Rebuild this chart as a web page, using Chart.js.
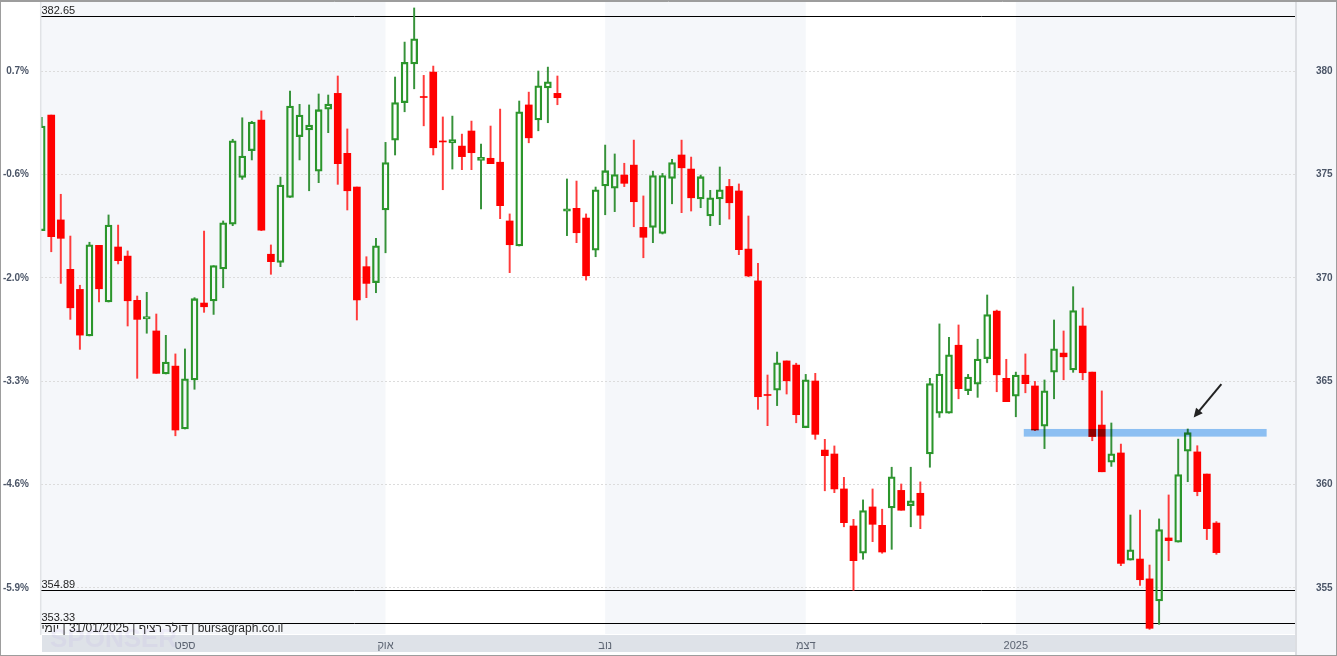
<!DOCTYPE html>
<html lang="he">
<head>
<meta charset="utf-8">
<title>דולר רציף - יומי</title>
<script src="https://cdn.jsdelivr.net/npm/chart.js@4.4.1/dist/chart.umd.min.js"></script>
<style>
  html, body { margin: 0; padding: 0; background: #fff; }
  #wrap { width: 1337px; height: 656px; }
</style>
</head>
<body>
<div id="wrap"><canvas id="candles" width="1337" height="656"></canvas></div>
<script>
// daily candles, index 0 = first trading day on screen (last = 31/01/2025)
const opens = [
  372.28, 377.87, 372.80, 370.41, 369.44, 367.19, 371.57, 368.83, 371.49, 371.05,
  368.91, 368.01, 367.43, 365.35, 365.73, 362.69, 365.06, 368.78, 368.88, 370.43,
  372.59, 374.86, 376.15, 377.63, 371.14, 370.75, 373.89, 376.82, 377.15, 375.16,
  378.16, 378.92, 376.02, 374.39, 370.54, 369.76, 373.28, 376.66, 378.47, 380.34,
  378.74, 379.95, 376.59, 376.52, 376.37, 377.10, 375.68, 375.78, 375.59, 372.75,
  371.54, 378.36, 377.63, 379.18, 378.92, 373.22, 373.36, 372.89, 371.34, 374.44,
  374.34, 374.97, 375.45, 372.44, 372.44, 372.15, 374.81, 375.94, 375.26, 373.81,
  372.99, 373.81, 374.42, 374.20, 371.39, 369.85, 364.33, 364.57, 365.98, 365.78,
  362.75, 365.01, 361.67, 361.48, 359.79, 358.00, 356.68, 358.92, 358.03, 358.87,
  359.72, 358.98, 359.58, 361.48, 363.45, 363.45, 366.74, 364.54, 364.86, 366.09,
  368.39, 365.14, 364.28, 365.29, 364.77, 362.83, 365.44, 366.36, 365.54, 367.67,
  365.44, 362.88, 361.09, 361.53, 356.35, 356.40, 355.44, 354.37, 357.42, 357.22,
  361.62, 361.58, 360.51, 358.14
];
const highs = [
  377.76, 377.87, 374.04, 372.02, 369.64, 371.72, 371.57, 373.04, 372.55, 371.30,
  369.12, 369.30, 368.25, 367.22, 366.32, 366.56, 369.04, 372.26, 370.59, 372.75,
  376.70, 377.74, 377.57, 378.07, 371.59, 374.87, 379.03, 378.39, 378.36, 378.89,
  378.84, 379.76, 377.20, 374.39, 371.02, 371.91, 376.55, 379.71, 381.40, 383.05,
  379.79, 380.24, 377.78, 377.82, 376.95, 377.58, 376.47, 377.34, 378.16, 373.09,
  378.55, 378.98, 380.00, 380.19, 379.76, 374.78, 374.68, 373.09, 374.39, 376.42,
  375.99, 375.54, 376.66, 373.96, 375.16, 375.05, 375.73, 376.66, 375.84, 374.97,
  374.23, 375.36, 374.76, 374.54, 372.99, 370.70, 365.30, 366.41, 365.98, 365.87,
  365.33, 365.38, 362.19, 361.87, 360.35, 358.32, 359.26, 359.79, 358.81, 360.84,
  360.03, 360.84, 360.13, 365.14, 367.77, 367.12, 367.72, 365.33, 367.03, 369.17,
  368.44, 366.06, 365.44, 366.32, 364.99, 365.06, 367.96, 367.43, 369.57, 368.54,
  365.44, 364.53, 362.98, 361.96, 358.53, 358.77, 356.11, 358.34, 359.50, 362.20,
  362.69, 361.88, 360.51, 358.21
];
const lows = [
  372.28, 371.26, 369.73, 367.99, 366.54, 367.19, 368.84, 368.83, 370.67, 367.67,
  365.14, 367.32, 365.38, 365.35, 362.36, 362.69, 364.61, 368.33, 368.23, 369.52,
  372.52, 374.76, 375.70, 372.28, 370.17, 370.54, 373.89, 375.70, 374.21, 374.60,
  377.02, 374.52, 373.28, 367.96, 369.04, 369.28, 371.21, 375.94, 378.03, 379.14,
  377.35, 375.94, 374.26, 375.26, 375.23, 375.23, 373.33, 375.52, 372.86, 370.25,
  371.54, 376.53, 377.11, 377.50, 378.37, 372.04, 371.70, 369.89, 371.02, 373.05,
  373.20, 374.41, 372.47, 370.97, 371.70, 372.12, 373.58, 373.15, 373.23, 373.39,
  372.52, 372.57, 372.84, 371.12, 370.05, 363.64, 362.85, 363.82, 364.38, 362.99,
  362.75, 362.19, 359.70, 359.61, 357.96, 354.89, 356.39, 357.24, 356.68, 356.87,
  358.76, 357.96, 357.87, 360.84, 363.25, 363.45, 364.15, 364.35, 364.22, 365.89,
  364.49, 364.01, 363.28, 364.44, 362.61, 361.74, 364.15, 365.07, 365.43, 365.07,
  362.12, 360.62, 360.88, 356.08, 356.35, 355.13, 353.00, 353.24, 356.32, 357.22,
  360.14, 359.46, 357.34, 356.63
];
const closes = [
  377.34, 371.99, 371.91, 368.55, 367.23, 371.59, 369.47, 372.55, 370.83, 368.89,
  367.99, 368.12, 365.38, 365.93, 362.64, 365.12, 368.99, 368.60, 370.59, 372.66,
  376.63, 375.89, 377.53, 372.31, 370.78, 374.49, 378.31, 377.87, 377.39, 378.13,
  378.40, 375.52, 374.21, 368.93, 369.73, 371.55, 375.57, 378.47, 380.42, 381.56,
  378.72, 376.29, 376.57, 376.68, 375.86, 376.05, 375.83, 375.52, 373.49, 371.60,
  378.03, 376.77, 379.29, 379.48, 378.71, 373.34, 372.18, 370.10, 374.26, 375.18,
  374.99, 374.57, 373.68, 371.96, 374.94, 374.94, 375.57, 375.32, 373.87, 374.89,
  373.87, 374.26, 373.63, 371.36, 370.09, 364.25, 364.31, 365.89, 365.02, 363.38,
  365.07, 362.43, 361.40, 359.79, 358.16, 356.32, 358.74, 358.08, 356.74, 360.38,
  358.76, 359.22, 358.52, 364.88, 365.35, 366.28, 364.64, 365.20, 366.07, 368.22,
  365.31, 364.01, 365.30, 364.88, 362.64, 364.54, 366.57, 366.18, 368.41, 365.41,
  362.32, 360.62, 361.49, 356.19, 356.85, 355.40, 353.05, 357.82, 357.29, 360.48,
  362.51, 359.66, 357.87, 356.71
];

// month labels along the date axis (candle index where the month starts)
const monthIdx = [15, 36, 59, 80, 102];
const monthNames = ['ספט', 'אוק', 'נוב', 'דצמ', '2025'];
// alternate month shading, candle index ranges
const shadeFrom = [-1, 59, 102];
const shadeTo = [36, 80, 140];

// price axis (right) and percent axis (left, vs reference price)
const priceTicks = [355, 360, 365, 370, 375, 380];
const pctBase = 377.4;
const yMin = 352.775, yMax = 383.29;
const xMin = -0.073, xMax = 131.23;

// marked levels, highlighted zone and arrow
const levels = [382.65, 354.89, 353.33];
const zoneX = [102.83, 128.26];
const zoneY = [362.32, 362.69];
const arrowFrom = [123.52, 364.86];
const arrowTo = [120.62, 363.25];

const caption = 'bursagraph.co.il | דולר רציף | 31/01/2025 | יומי';

const FONT = "'Liberation Sans', Arial, 'DejaVu Sans', sans-serif";
const RED = '#ff0000';
const RED_WICK = '#ff3b3b';
const GREEN = '#2b962b';
const GREEN_WICK = '#36923a';
const AXIS_TEXT = '#4c5668';
const BAND = '#f5f7fa';

const isUp = i => closes[i] >= opens[i];
const idx = closes.map((_, i) => i);
const bodies = idx.map(i => ({ x: i, y: [opens[i], closes[i]] }));
const upperWicks = idx.map(i => ({ x: i, y: [Math.max(opens[i], closes[i]), highs[i]] }));
const lowerWicks = idx.map(i => ({ x: i, y: [lows[i], Math.min(opens[i], closes[i])] }));
const wickColour = c => isUp(c.dataIndex) ? GREEN_WICK : RED_WICK;

const decorations = {
  id: 'decorations',
  beforeDraw(chart) {
    const { ctx, chartArea: a, scales: { x } } = chart;
    ctx.save();
    ctx.fillStyle = '#fff';
    ctx.fillRect(0, 0, chart.width, chart.height);
    // right price panel
    ctx.fillStyle = BAND;
    ctx.fillRect(a.right, 0, chart.width - a.right, chart.height);
    // month shading
    shadeFrom.forEach((s, k) => {
      const x0 = Math.max(a.left, x.getPixelForValue(s));
      const x1 = Math.min(a.right, x.getPixelForValue(shadeTo[k]));
      ctx.fillRect(x0, 0, x1 - x0, a.bottom);
    });
    // date strip
    ctx.fillStyle = '#dee2e8';
    ctx.fillRect(a.left + 1, a.bottom + 1, a.right - a.left - 1, 17);
    // faint sponsor mark
    ctx.font = 'bold 26px ' + FONT;
    ctx.fillStyle = 'rgba(170, 150, 230, 0.11)';
    ctx.textBaseline = 'alphabetic';
    ctx.fillText('SPONSER', 50, 647);
    ctx.restore();
  },
  beforeDatasetsDraw(chart) {
    const { ctx, chartArea: a, scales: { y } } = chart;
    ctx.save();
    ctx.strokeStyle = '#000';
    ctx.lineWidth = 1;
    ctx.fillStyle = '#1e1e1e';
    ctx.font = '11px ' + FONT;
    ctx.textBaseline = 'bottom';
    ctx.textAlign = 'left';
    levels.forEach(v => {
      const py = Math.round(y.getPixelForValue(v)) + 0.5;
      ctx.beginPath();
      ctx.moveTo(a.left, py);
      ctx.lineTo(a.right, py);
      ctx.stroke();
      ctx.fillText(v.toFixed(2), a.left + 0.5, py - 0.5);
    });
    ctx.restore();
  },
  afterDatasetsDraw(chart) {
    const { ctx, chartArea: a, scales: { x, y } } = chart;
    ctx.save();
    // highlighted zone
    ctx.globalCompositeOperation = 'multiply';
    ctx.fillStyle = '#92c5f7';
    const zx0 = x.getPixelForValue(zoneX[0]), zx1 = x.getPixelForValue(zoneX[1]);
    const zy0 = y.getPixelForValue(zoneY[1]), zy1 = y.getPixelForValue(zoneY[0]);
    ctx.fillRect(zx0, zy0, zx1 - zx0, zy1 - zy0);
    ctx.globalCompositeOperation = 'source-over';

    // arrow
    const ax0 = x.getPixelForValue(arrowFrom[0]), ay0 = y.getPixelForValue(arrowFrom[1]);
    const ax1 = x.getPixelForValue(arrowTo[0]), ay1 = y.getPixelForValue(arrowTo[1]);
    const ang = Math.atan2(ay1 - ay0, ax1 - ax0);
    ctx.strokeStyle = '#222';
    ctx.fillStyle = '#222';
    ctx.lineWidth = 2;
    ctx.beginPath();
    ctx.moveTo(ax0, ay0);
    ctx.lineTo(ax1 - 6 * Math.cos(ang), ay1 - 6 * Math.sin(ang));
    ctx.stroke();
    ctx.beginPath();
    ctx.moveTo(ax1, ay1);
    ctx.lineTo(ax1 - 10 * Math.cos(ang - 0.45), ay1 - 10 * Math.sin(ang - 0.45));
    ctx.lineTo(ax1 - 10 * Math.cos(ang + 0.45), ay1 - 10 * Math.sin(ang + 0.45));
    ctx.closePath();
    ctx.fill();

    // caption under the chart
    ctx.font = '12px ' + FONT;
    ctx.fillStyle = '#2a2a2a';
    ctx.direction = 'rtl';
    ctx.textAlign = 'left';
    ctx.textBaseline = 'alphabetic';
    ctx.fillText(caption, a.left + 0.5, 632);
    ctx.restore();
  },
  afterDraw(chart) {
    const { ctx, chartArea: a } = chart;
    ctx.save();
    // panel separators
    ctx.strokeStyle = '#e1e3e6';
    ctx.lineWidth = 1.5;
    ctx.beginPath();
    ctx.moveTo(a.left - 0.3, 0);
    ctx.lineTo(a.left - 0.3, a.bottom + 1);
    ctx.stroke();
    ctx.strokeStyle = '#dcdee2';
    ctx.lineWidth = 2;
    ctx.beginPath();
    ctx.moveTo(a.right + 1, 0);
    ctx.lineTo(a.right + 1, chart.height);
    ctx.stroke();
    // outer frame
    ctx.strokeStyle = '#9d9d9d';
    ctx.lineWidth = 1;
    ctx.strokeRect(0.5, 0.5, chart.width - 1, chart.height - 1);
    ctx.beginPath();
    ctx.moveTo(0, 1.5);
    ctx.lineTo(chart.width, 1.5);
    ctx.stroke();
    ctx.restore();
  }
};

new Chart(document.getElementById('candles'), {
  type: 'bar',
  data: {
    datasets: [
      {
        label: 'body',
        data: bodies,
        grouped: false,
        barThickness: 7,
        minBarLength: 1,
        borderSkipped: false,
        backgroundColor: c => isUp(c.dataIndex) ? 'rgba(0,0,0,0)' : RED,
        borderColor: c => isUp(c.dataIndex) ? GREEN : RED,
        borderWidth: c => isUp(c.dataIndex) ? 1.6 : 0
      },
      {
        label: 'upper wick',
        data: upperWicks,
        grouped: false,
        barThickness: 1.3,
        borderWidth: 0,
        backgroundColor: wickColour
      },
      {
        label: 'lower wick',
        data: lowerWicks,
        grouped: false,
        barThickness: 1.3,
        borderWidth: 0,
        backgroundColor: wickColour
      }
    ]
  },
  options: {
    responsive: false,
    animation: false,
    events: [],
    layout: { padding: { top: 3, left: 0, right: 0, bottom: 0 } },
    plugins: { legend: { display: false }, tooltip: { enabled: false } },
    scales: {
      x: {
        type: 'linear',
        min: xMin,
        max: xMax,
        offset: false,
        grid: { display: false, drawTicks: false },
        border: { display: false },
        afterBuildTicks: s => { s.ticks = monthIdx.map(v => ({ value: v })); },
        afterFit: s => { s.height = 22; s.paddingLeft = 0; s.paddingRight = 0; },
        ticks: {
          autoSkip: false,
          maxRotation: 0,
          padding: 5,
          color: '#5c6472',
          font: { family: FONT, size: 11 },
          callback: v => monthNames[monthIdx.indexOf(v)]
        }
      },
      y: {
        position: 'left',
        min: yMin,
        max: yMax,
        afterBuildTicks: s => { s.ticks = priceTicks.map(v => ({ value: v })); },
        afterFit: s => { s.width = 41; s.paddingTop = 0; s.paddingBottom = 0; },
        grid: { color: '#dcdcdc', lineWidth: 1, drawTicks: false },
        border: { display: false, dash: [2, 2] },
        ticks: {
          padding: 12,
          color: AXIS_TEXT,
          font: { family: FONT, size: 10, weight: 'bold' },
          callback: v => ((v / pctBase - 1) * 100).toFixed(1) + '%'
        }
      },
      yR: {
        position: 'right',
        min: yMin,
        max: yMax,
        afterBuildTicks: s => { s.ticks = priceTicks.map(v => ({ value: v })); },
        afterFit: s => { s.width = 42; s.paddingTop = 0; s.paddingBottom = 0; },
        grid: { display: false, drawTicks: false },
        border: { display: false },
        ticks: {
          padding: 21,
          color: AXIS_TEXT,
          font: { family: FONT, size: 10, weight: 'bold' },
          callback: v => String(v)
        }
      }
    }
  },
  plugins: [decorations]
});
</script>
</body>
</html>
